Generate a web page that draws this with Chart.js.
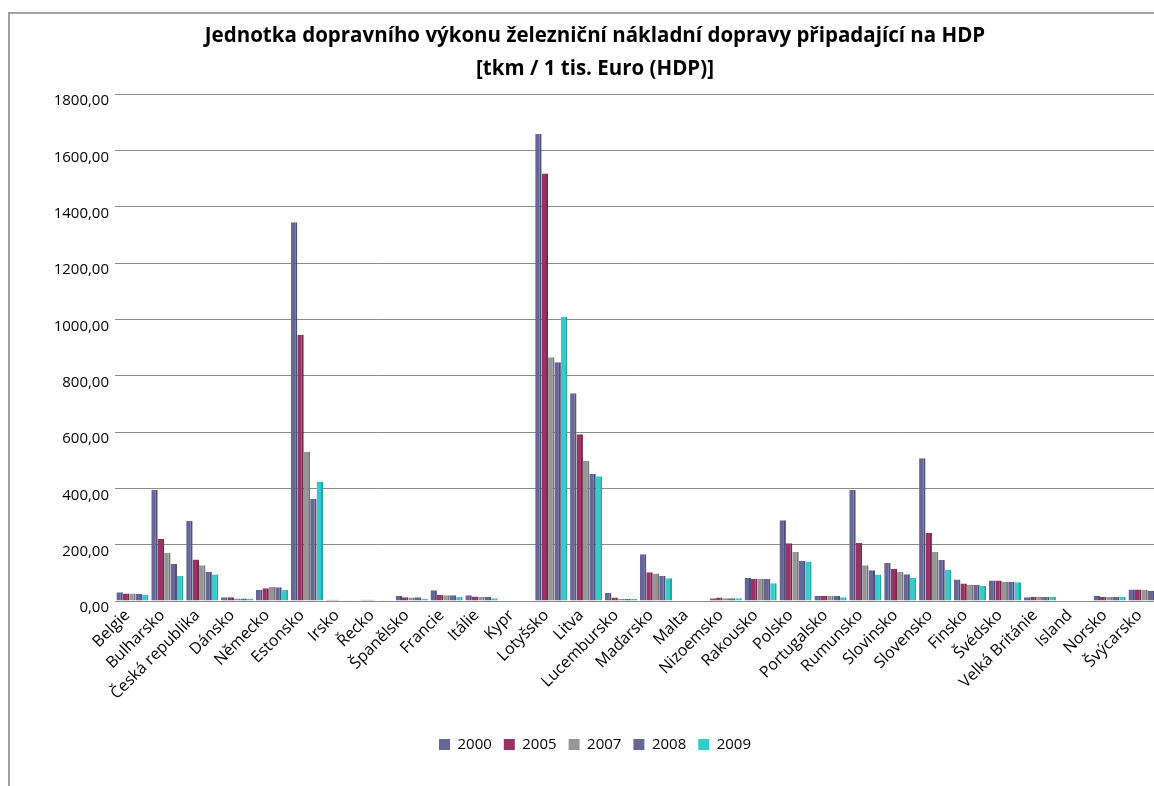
<!DOCTYPE html>
<html lang="cs">
<head>
<meta charset="utf-8">
<title>Jednotka dopravního výkonu železniční nákladní dopravy</title>
<script src="https://cdn.jsdelivr.net/npm/chart.js@4/dist/chart.umd.min.js"></script>
<style>
  html, body { margin: 0; padding: 0; background: #fff; overflow: hidden; }
  #frame { position: absolute; left: 8px; top: 12px; width: 1200px; height: 800px;
           border-left: 2px solid #a0a0a0; border-top: 2px solid #a0a0a0; }
  #wrap { position: absolute; left: 0; top: 0; width: 1190px; height: 786px; }
</style>
</head>
<body>
<div id="frame"></div>
<div id="wrap"><canvas id="chart" width="1190" height="786"></canvas></div>
<script>
// země (kategorie osy x)
const zeme = ['Belgie','Bulharsko','Česká republika','Dánsko','Německo','Estonsko','Irsko','Řecko',
  'Španělsko','Francie','Itálie','Kypr','Lotyšsko','Litva','Lucembursko','Maďarsko','Malta',
  'Nizoemsko','Rakousko','Polsko','Portugalsko','Rumunsko','Slovinsko','Slovensko','Finsko',
  'Švédsko','Velká Británie','Island','Norsko','Švýcarsko'];

// tkm na 1 tis. Euro HDP, po rocích (null = bez údaje)
const r2000 = [31,395,285,13,40,1345,4,4,18,38,20,null,1658,738,28,166,null,10,82,287,19,394,135,507,76,73,13,null,18,41];
const r2005 = [27,220,147,13,45,945,4,4,13,21,16,null,1518,592,12,102,null,12,79,205,19,206,114,241,62,73,14,null,14,41];
const r2007 = [27,171,127,9,50,530,3,3,12,20,15,null,865,498,8,98,null,10,79,174,18,127,104,175,58,68,14,null,14,40];
const r2008 = [26,132,104,9,49,363,3,3,13,20,15,null,848,451,7,89,null,10,79,142,18,109,95,146,58,68,14,null,14,36];
const r2009 = [21,90,94,8,40,424,3,3,8,14,10,null,1008,443,7,81,null,10,63,140,13,94,82,111,53,67,14,null,14,36];

const roky = ['2000','2005','2007','2008','2009'];
const barvy = ['#666699','#993366','#969696','#666699','#33cccc'];
const stiny = ['#4e4e7c','#782649','#767676','#4e4e7c','#27a5a5'];
const hodnoty = [r2000, r2005, r2007, r2008, r2009];

const osaY = { min: 0, max: 1800, krok: 200 };

const pismo = "'Open Sans', 'Noto Sans', sans-serif";

const datasets = roky.map((rok, i) => ({
  label: rok,
  data: hodnoty[i],
  backgroundColor: barvy[i],
  borderColor: stiny[i],
  borderWidth: { top: 0, right: 2, bottom: 0, left: 0 },
  borderSkipped: false,
  barPercentage: 1.0,
  categoryPercentage: 0.92
}));

new Chart(document.getElementById('chart').getContext('2d'), {
  type: 'bar',
  data: { labels: zeme, datasets: datasets },
  options: {
    responsive: false,
    animation: false,
    layout: { padding: { left: 0, right: 0, top: 0, bottom: 24 } },
    plugins: {
      title: {
        display: true,
        text: ['Jednotka dopravního výkonu železniční nákladní dopravy připadající na HDP',
               '[tkm / 1 tis. Euro (HDP)]'],
        color: '#000',
        font: { family: pismo, size: 20.5, weight: 'bold', lineHeight: 1.61 },
        padding: { top: 20, bottom: 8 }
      },
      legend: {
        position: 'bottom',
        labels: {
          color: '#000',
          font: { family: pismo, size: 15 },
          boxWidth: 11,
          boxHeight: 11,
          padding: 12,
          generateLabels: (chart) => chart.data.datasets.map((ds, i) => ({
            text: ds.label,
            fillStyle: barvy[i],
            strokeStyle: barvy[i],
            lineWidth: 0,
            datasetIndex: i
          }))
        }
      },
      tooltip: { enabled: false }
    },
    scales: {
      x: {
        grid: { display: false, drawTicks: false },
        border: { display: false },
        ticks: {
          autoSkip: false,
          maxRotation: 45,
          minRotation: 45,
          padding: 5,
          labelOffset: -5,
          color: '#000',
          font: { family: pismo, size: 16 }
        },
        afterFit: (s) => { s.height = 124; }
      },
      y: {
        min: osaY.min,
        max: osaY.max,
        grid: { color: '#8c8c8c', lineWidth: 1, drawTicks: false },
        border: { display: false },
        ticks: {
          stepSize: osaY.krok,
          padding: 6,
          labelOffset: 7,
          color: '#000',
          font: { family: pismo, size: 15 },
          callback: (v) => v.toFixed(2).replace('.', ',')
        },
        afterFit: (s) => { s.width = 115; }
      },
      // prázdný okraj vpravo, plocha grafu končí za hranou stránky
      okraj: {
        position: 'right',
        display: true,
        grid: { display: false, drawTicks: false },
        border: { display: false },
        ticks: { display: false },
        afterFit: (s) => { s.width = 28; }
      }
    }
  }
});
</script>
</body>
</html>
